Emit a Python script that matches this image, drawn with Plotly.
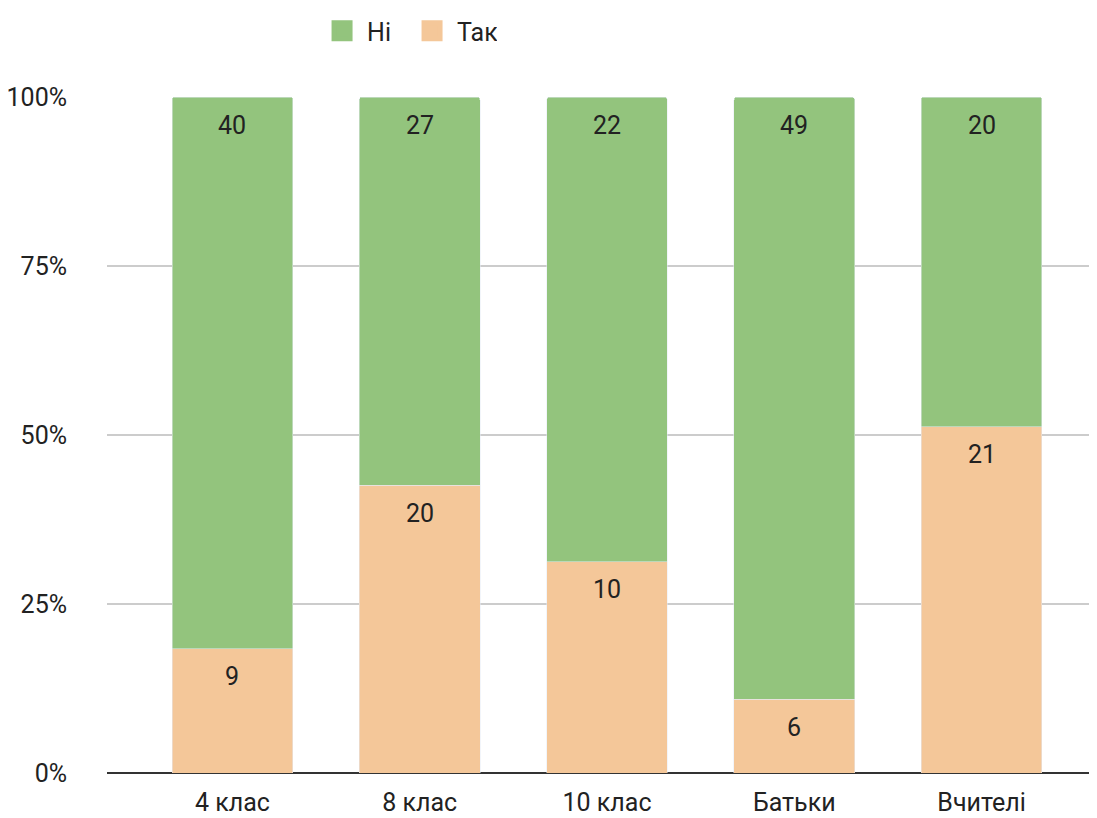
import plotly.graph_objects as go

groups = ["4 клас", "8 клас", "10 клас", "Батьки", "Вчителі"]
tak = [9, 20, 10, 6, 21]
ni = [40, 27, 22, 49, 20]
y_ticks = [0, 25, 50, 75, 100]
y_tick_labels = ["0%", "25%", "50%", "75%", "100%"]

GREEN = "#93c47d"
PEACH = "#f4c799"

totals = [a + b for a, b in zip(tak, ni)]
tak_pct = [100 * a / t for a, t in zip(tak, totals)]

fig = go.Figure()
fig.add_trace(go.Bar(
    x=groups, y=tak, name="Так", showlegend=False,
    marker=dict(color=PEACH, cornerradius=3),
))
fig.add_trace(go.Bar(
    x=groups, y=ni, name="Ні", showlegend=False,
    marker=dict(color=GREEN, cornerradius=3),
))

# legend entries with bigger square swatches
for name, color in [("Ні", GREEN), ("Так", PEACH)]:
    fig.add_trace(go.Scatter(
        x=[None], y=[None], mode="markers", name=name,
        marker=dict(symbol="square", size=16, color=color,
                    line=dict(color=color, width=5)),
    ))

# value labels just below the top of each segment
for g, v, p in zip(groups, tak, tak_pct):
    fig.add_annotation(x=g, y=p, text=str(v), showarrow=False,
                       yanchor="middle", yshift=-28)
for g, v in zip(groups, ni):
    fig.add_annotation(x=g, y=100, text=str(v), showarrow=False,
                       yanchor="middle", yshift=-28)

fig.update_layout(
    barmode="stack",
    barnorm="percent",
    bargap=0.355,
    width=1089, height=810,
    margin=dict(l=99, r=2, t=89, b=45, autoexpand=False),
    font=dict(family="Roboto", size=25, color="#222222"),
    plot_bgcolor="white",
    paper_bgcolor="white",
    legend=dict(
        orientation="h", itemsizing="trace", traceorder="normal",
        x=0.2126, xanchor="left", y=1.0976, yanchor="middle",
        font=dict(size=25), itemwidth=40,
        entrywidth=35, entrywidthmode="pixels",
    ),
    xaxis=dict(
        range=[-0.67, 4.606],
        showgrid=False, ticks="", showline=False,
        ticklabelstandoff=12, automargin=False,
    ),
    yaxis=dict(
        range=[0, 100],
        tickvals=y_ticks, ticktext=y_tick_labels,
        gridcolor="#cccccc", gridwidth=2,
        zeroline=True, zerolinecolor="#333333", zerolinewidth=2,
        ticklabelstandoff=39, automargin=False,
    ),
)

fig.write_html("out.html")
